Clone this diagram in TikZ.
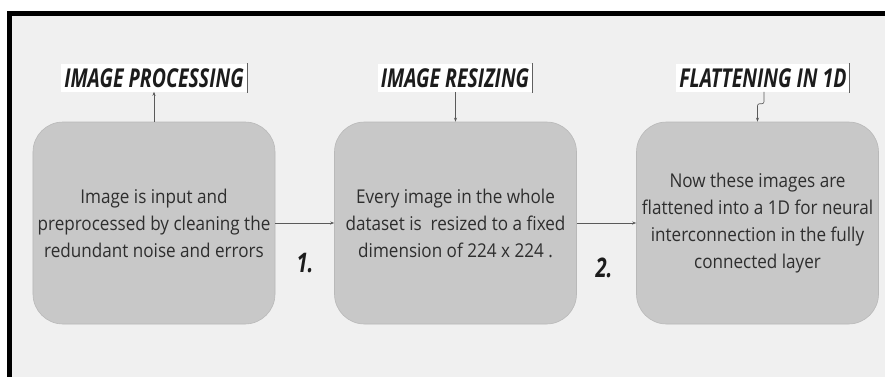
\documentclass[tikz,border=0pt]{standalone}
\usepackage{fontspec}
\setmainfont{Open Sans}[FakeStretch=0.9]
\newfontfamily\headfont{Open Sans}[FakeStretch=0.75]
\usetikzlibrary{arrows.meta}
\definecolor{pagebg}{HTML}{F0F0F0}
\definecolor{boxfill}{HTML}{C8C8C8}
\definecolor{boxline}{HTML}{B9B9B9}
\definecolor{linkcol}{HTML}{5A5A5A}
\definecolor{inkcol}{HTML}{1C1C1C}
\definecolor{textcol}{HTML}{2E2E2E}
\tikzset{
  stagebox/.style={draw=boxline, line width=0.6bp, fill=boxfill, rounded corners=30bp,
    minimum width=242bp, minimum height=202bp, align=center, text=textcol,
    font=\fontsize{19bp}{27bp}\selectfont, inner sep=0pt},
  headlabel/.style={fill=white, text=inkcol, inner xsep=3bp, inner ysep=4bp,
    font=\headfont\bfseries\itshape\fontsize{26bp}{28bp}\selectfont},
  stepnum/.style={text=inkcol, font=\headfont\bfseries\itshape\fontsize{27bp}{28bp}\selectfont},
  link/.style={draw=linkcol, line width=0.6bp, -{Stealth[length=4bp,width=3bp]}},
  caret/.style={draw=inkcol!70, line width=0.8bp}
}
\begin{document}
\begin{tikzpicture}[x=1bp, y=-1bp]
  \useasboundingbox (0,0) rectangle (885,376);
  % panel with a heavy rule along its top and left sides; it runs on past the page edge
  \fill[white] (0,0) rectangle (885,376);
  \fill[pagebg] (7,11) rectangle (900,390);
  \fill[black] (7,11) rectangle (900,16);
  \fill[black] (7,11) rectangle (12,390);

  % stage boxes
  \node[stagebox] (b1) at (154,223) {Image is input and\\preprocessed by cleaning the\\redundant noise and errors};
  \node[stagebox] (b2) at (455.5,223) {Every image in the whole\\dataset is\ \ resized to a fixed\\dimension of 224 x 224 .};
  \node[stagebox] (b3) at (757.5,223) {Now these images are\\flattened into a 1D for neural\\interconnection in the fully\\connected layer};

  % headings
  \node[headlabel] (t1) at (154,78) {IMAGE PROCESSING};
  \node[headlabel] (t2) at (455,78) {IMAGE RESIZING};
  \node[headlabel] (t3) at (763,78) {FLATTENING IN 1D};
  \foreach \t in {t1,t2,t3}
    \draw[caret] ([yshift=1bp]\t.north east) -- ([yshift=-1bp]\t.south east);

  % heading connectors
  \draw[link] (b1.north) -- (b1.north |- t1.south);
  \draw[link] (t2.south -| b2.north) -- (b2.north);
  \coordinate (t3foot) at ([xshift=1bp]t3.south);
  \draw[link, rounded corners=2bp] (t3foot) -- ++(0,12) -| (b3.north);

  % flow between stages
  \draw[link] (b1.east) -- (b2.west);
  \draw[link] (b2.east) -- (b3.west);
  \node[stepnum] (n1) at (305,263) {1.};
  \node[stepnum] (n2) at (604,268) {2.};
\end{tikzpicture}
\end{document}
